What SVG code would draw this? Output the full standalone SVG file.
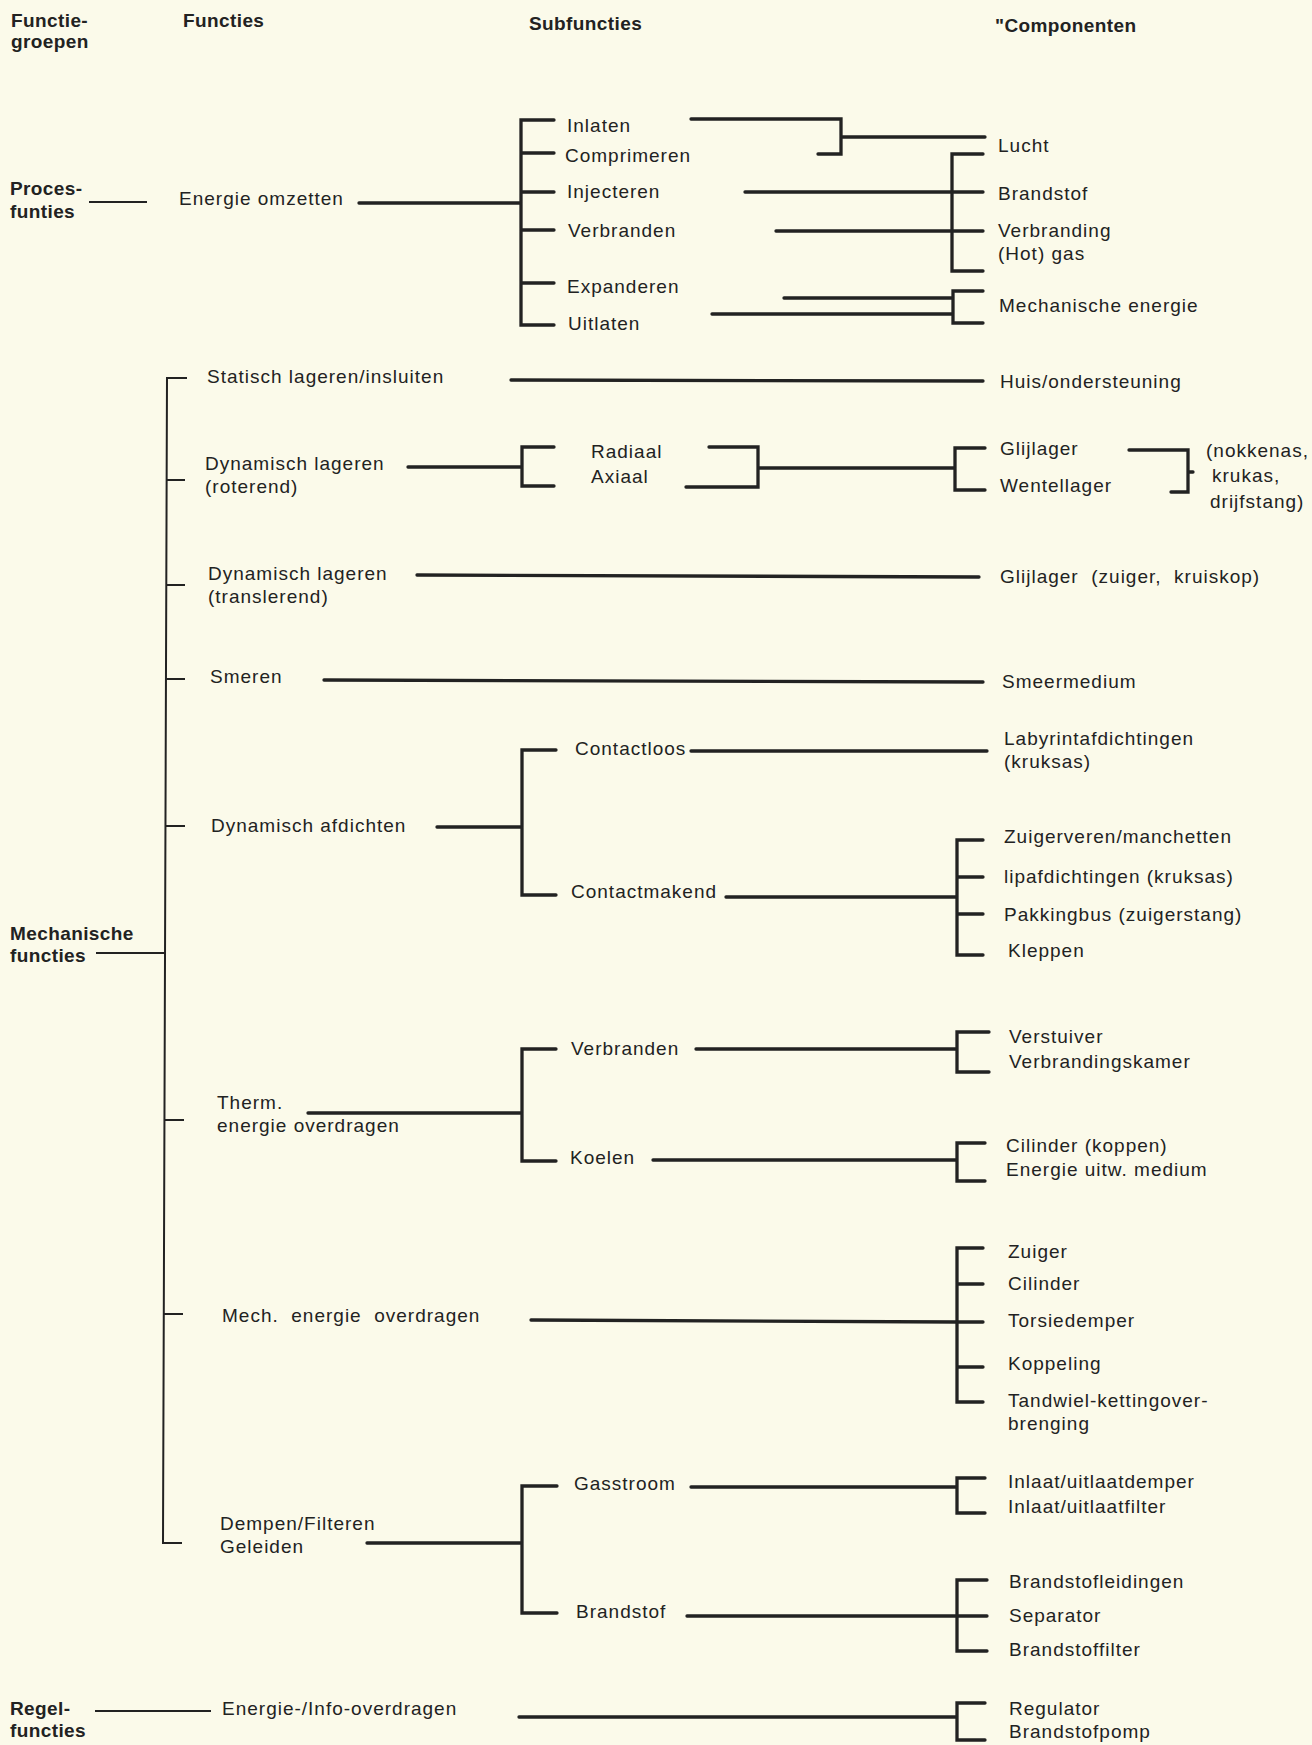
<svg xmlns="http://www.w3.org/2000/svg" width="1312" height="1745" viewBox="0 0 1312 1745">
<style>
text{font-family:"Liberation Sans",Arial,sans-serif;font-size:19px;fill:#222;letter-spacing:1px}
.b{font-weight:bold;font-size:19px;letter-spacing:0.4px}
.thin{stroke:#222;stroke-width:2;fill:none}
.thick{stroke:#222;stroke-width:3.3;fill:none;stroke-linecap:round;stroke-linejoin:miter}
</style>
<rect width="1312" height="1745" fill="#fbfaea"/>
<g id="headers">
<text class="b" x="11" y="27">Functie-</text>
<text class="b" x="11" y="48">groepen</text>
<text class="b" x="183" y="27">Functies</text>
<text class="b" x="529" y="30">Subfuncties</text>
<text class="b" x="995" y="32">"Componenten</text>
</g>
<g id="connectors">
<path class="thin" d="M89,202H147M96,953H166M95,1711H211"/>
<path class="thin" d="M187,378H167L163,1543H182M166.6,480H185M166.3,585H185M166,679H185M165.5,826H185M164.5,1120H184M164,1314H183"/>
<path class="thick" d="M359,203H521M554,120H521V325H554M521,153H554M521,192H554M521,230H554M521,283H554"/>
<path class="thick" d="M691,119H841V154H818M841,137H985"/>
<path class="thick" d="M983,154H952V271H983M745,192H983M776,231H983"/>
<path class="thick" d="M983,291H953V323H983M784,298H953M712,314H953"/>
<path class="thick" d="M511,380L983,381"/>
<path class="thick" d="M408,467H522M554,447H522V486H554M709,447H758V487H686M758,468H955M985,448H955V490H985M1129,450H1188V492H1171M1188,472H1193"/>
<path class="thick" d="M417,575L979,577"/>
<path class="thick" d="M324,680L983,682"/>
<path class="thick" d="M437,827H522M556,750H522V895H556"/>
<path class="thick" d="M691,751H987"/>
<path class="thick" d="M726,897H957M983,840H957V955H983M957,877H983M957,914H983"/>
<path class="thick" d="M308,1113H522M556,1049H522V1161H556"/>
<path class="thick" d="M696,1049H957M989,1032H957V1072H989"/>
<path class="thick" d="M653,1160H957M985,1143H957V1181H985"/>
<path class="thick" d="M531,1320L957,1322M983,1248H957V1402H983M957,1284H983M957,1322H983M957,1367H983"/>
<path class="thick" d="M367,1543H522M557,1486H522V1613H557"/>
<path class="thick" d="M691,1487H957M985,1478H957V1513H985"/>
<path class="thick" d="M687,1616H957M987,1580H957V1651H987M957,1616H987"/>
<path class="thick" d="M519,1717H957M985,1703H957V1740H985"/>
</g>
<g id="group-proces"><text class="b" x="10" y="195">Proces-</text><text class="b" x="10" y="218">funties</text></g>
<g id="group-mech"><text class="b" x="10" y="940">Mechanische</text><text class="b" x="10" y="962">functies</text></g>
<g id="group-regel"><text class="b" x="10" y="1715">Regel-</text><text class="b" x="10" y="1737">functies</text></g>
<g id="f-energie-omzetten"><text x="179" y="205">Energie omzetten</text></g>
<g id="f-statisch"><text x="207" y="383">Statisch lageren/insluiten</text></g>
<g id="f-dyn-rot"><text x="205" y="470">Dynamisch lageren</text><text x="205" y="493">(roterend)</text></g>
<g id="f-dyn-trans"><text x="208" y="580">Dynamisch lageren</text><text x="208" y="603">(translerend)</text></g>
<g id="f-smeren"><text x="210" y="683">Smeren</text></g>
<g id="f-afdichten"><text x="211" y="832">Dynamisch afdichten</text></g>
<g id="f-therm"><text x="217" y="1109">Therm.</text><text x="217" y="1132">energie overdragen</text></g>
<g id="f-mech"><text x="222" y="1322" xml:space="preserve">Mech.  energie  overdragen</text></g>
<g id="f-dempen"><text x="220" y="1530">Dempen/Filteren</text><text x="220" y="1553">Geleiden</text></g>
<g id="f-info"><text x="222" y="1715">Energie-/Info-overdragen</text></g>
<g id="s-inlaten"><text x="567" y="132">Inlaten</text></g>
<g id="s-comprimeren"><text x="565" y="162">Comprimeren</text></g>
<g id="s-injecteren"><text x="567" y="198">Injecteren</text></g>
<g id="s-verbranden1"><text x="568" y="237">Verbranden</text></g>
<g id="s-expanderen"><text x="567" y="293">Expanderen</text></g>
<g id="s-uitlaten"><text x="568" y="330">Uitlaten</text></g>
<g id="s-radiaal"><text x="591" y="458">Radiaal</text><text x="591" y="483">Axiaal</text></g>
<g id="s-contactloos"><text x="575" y="755">Contactloos</text></g>
<g id="s-contactmakend"><text x="571" y="898">Contactmakend</text></g>
<g id="s-verbranden2"><text x="571" y="1055">Verbranden</text></g>
<g id="s-koelen"><text x="570" y="1164">Koelen</text></g>
<g id="s-gasstroom"><text x="574" y="1490">Gasstroom</text></g>
<g id="s-brandstof"><text x="576" y="1618">Brandstof</text></g>
<g id="c-lucht"><text x="998" y="152">Lucht</text></g>
<g id="c-brandstof"><text x="998" y="200">Brandstof</text></g>
<g id="c-verbranding"><text x="998" y="237">Verbranding</text><text x="998" y="260">(Hot) gas</text></g>
<g id="c-mechenergie"><text x="999" y="312">Mechanische energie</text></g>
<g id="c-huis"><text x="1000" y="388">Huis/ondersteuning</text></g>
<g id="c-glijlager"><text x="1000" y="455">Glijlager</text><text x="1000" y="492">Wentellager</text></g>
<g id="c-nokkenas"><text x="1206" y="457">(nokkenas,</text><text x="1212" y="482">krukas,</text><text x="1210" y="508">drijfstang)</text></g>
<g id="c-glijlager2"><text x="1000" y="583" xml:space="preserve">Glijlager  (zuiger,  kruiskop)</text></g>
<g id="c-smeermedium"><text x="1002" y="688">Smeermedium</text></g>
<g id="c-labyrint"><text x="1004" y="745">Labyrintafdichtingen</text><text x="1004" y="768">(kruksas)</text></g>
<g id="c-afdicht"><text x="1004" y="843">Zuigerveren/manchetten</text><text x="1004" y="883">lipafdichtingen (kruksas)</text><text x="1004" y="921">Pakkingbus (zuigerstang)</text><text x="1008" y="957">Kleppen</text></g>
<g id="c-verstuiver"><text x="1009" y="1043">Verstuiver</text><text x="1009" y="1068">Verbrandingskamer</text></g>
<g id="c-cilinder"><text x="1006" y="1152">Cilinder (koppen)</text><text x="1006" y="1176">Energie uitw. medium</text></g>
<g id="c-mech"><text x="1008" y="1258">Zuiger</text><text x="1008" y="1290">Cilinder</text><text x="1008" y="1327">Torsiedemper</text><text x="1008" y="1370">Koppeling</text><text x="1008" y="1407">Tandwiel-kettingover-</text><text x="1008" y="1430">brenging</text></g>
<g id="c-inlaat"><text x="1008" y="1488">Inlaat/uitlaatdemper</text><text x="1008" y="1513">Inlaat/uitlaatfilter</text></g>
<g id="c-brandstofdelen"><text x="1009" y="1588">Brandstofleidingen</text><text x="1009" y="1622">Separator</text><text x="1009" y="1656">Brandstoffilter</text></g>
<g id="c-regulator"><text x="1009" y="1715">Regulator</text><text x="1009" y="1738">Brandstofpomp</text></g>
</svg>
